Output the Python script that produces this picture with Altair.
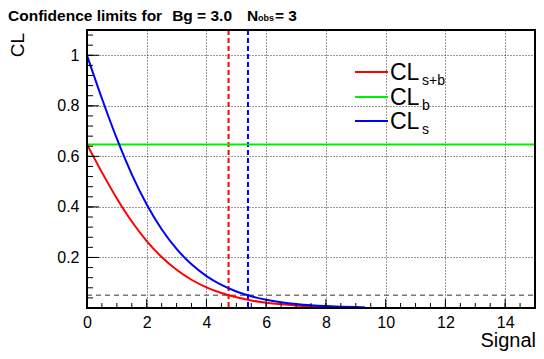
import altair as alt
import pandas as pd
import numpy as np

# ---- data ----
s_red = [0, 0.5, 1, 1.5, 2, 2.5, 3, 3.5, 4, 4.5, 5, 5.5, 6, 6.5, 7, 7.5, 8, 8.5, 8.7]
cl_sb = [0.6472, 0.5366, 0.4335, 0.3423, 0.2650, 0.2017, 0.1512, 0.1118, 0.0818,
         0.0592, 0.0424, 0.0301, 0.0212, 0.0149, 0.0103, 0.0071, 0.0049, 0.0034, 0.0029]
s_blue = [0, 0.5, 1, 1.5, 2, 2.5, 3, 3.5, 4, 4.5, 5, 5.5, 6, 6.5, 7, 7.5, 8, 8.5, 9, 9.3]
cl_s = [1.0, 0.8291, 0.6698, 0.5289, 0.4095, 0.3117, 0.2336, 0.1727, 0.1263, 0.0914,
        0.0655, 0.0465, 0.0328, 0.0230, 0.0160, 0.0110, 0.0076, 0.0052, 0.0035, 0.0028]
s_green = [0, 15]
cl_b = [0.6472, 0.6472]
limit_s = [4.74, 5.39]
limit_colors = ["#ff0000", "#0000ff"]
cl_level = [0.05]
x_labels = [0, 2, 4, 6, 8, 10, 12, 14]
y_labels = [0.2, 0.4, 0.6, 0.8, 1.0]

W, H = 448, 278
FONT = "Liberation Sans"
xs = alt.Scale(domain=[0, 15], nice=False, zero=False)
ys = alt.Scale(domain=[0, 1.1], nice=False, zero=False)
AX = alt.Axis(values=x_labels, title=None, grid=True, domain=False, ticks=False,
              labelFont=FONT, labelFontSize=16, labelPadding=6, labelColor="black",
              gridColor="black", gridDash=[1, 2], gridOpacity=0.8, labelFlush=False)
AY = alt.Axis(values=y_labels, title=None, grid=True, domain=False, ticks=False, format="~g",
              labelFont=FONT, labelFontSize=16, labelPadding=8, labelColor="black",
              gridColor="black", gridDash=[1, 2], gridOpacity=0.8)

def X(f="s"):
    return alt.X(f + ":Q", scale=xs, axis=AX)

def Y(f="cl"):
    return alt.Y(f + ":Q", scale=ys, axis=AY)

def line(sv, yv, color):
    df = pd.DataFrame({"s": sv, "cl": yv})
    return alt.Chart(df).mark_line(color=color, strokeWidth=2, interpolate="monotone", clip=True).encode(
        x=X(), y=Y())

# inside ticks
xmaj = pd.DataFrame({"s": np.arange(0, 15.01, 2)})
xmin = pd.DataFrame({"s": np.arange(0, 15.01, 0.5)})
ymaj = pd.DataFrame({"cl": np.round(np.arange(0, 1.101, 0.2), 3)})
ymin = pd.DataFrame({"cl": np.round(np.arange(0, 1.101, 0.04), 3)})
xt_major = alt.Chart(xmaj).mark_rule(color="black", strokeWidth=1).encode(
    x=X(), y=alt.value(H), y2=alt.value(H - 9))
xt_minor = alt.Chart(xmin).mark_rule(color="black", strokeWidth=1).encode(
    x=X(), y=alt.value(H), y2=alt.value(H - 5))
yt_major = alt.Chart(ymaj).mark_rule(color="black", strokeWidth=1).encode(
    y=Y(), x=alt.value(0), x2=alt.value(12))
yt_minor = alt.Chart(ymin).mark_rule(color="black", strokeWidth=1).encode(
    y=Y(), x=alt.value(0), x2=alt.value(6))

# reference dashed lines
lim_df = pd.DataFrame({"s": limit_s, "c": limit_colors})
limits = alt.Chart(lim_df).mark_rule(strokeWidth=2, strokeDash=[5, 3]).encode(
    x=X(), y=alt.value(0), y2=alt.value(H),
    color=alt.Color("c:N", scale=None, legend=None))
hl = alt.Chart(pd.DataFrame({"cl": cl_level})).mark_rule(
    color="#777777", strokeWidth=1.5, strokeDash=[5, 4]).encode(
    y=Y(), x=alt.value(0), x2=alt.value(W))

one = pd.DataFrame({"a": [0]})
frame = alt.Chart(one).mark_rect(fill=None, stroke="black", strokeWidth=2).encode(
    x=alt.value(0), x2=alt.value(W), y=alt.value(0), y2=alt.value(H))

def txt(t, x, y, size, weight="normal", align="left", angle=0, baseline="alphabetic"):
    kw = dict(text=t, font=FONT, fontSize=size, color="black", fontWeight=weight,
              align=align, baseline=baseline)
    if angle:
        kw["angle"] = angle
    return alt.Chart(one).mark_text(**kw).encode(x=alt.value(x), y=alt.value(y))

# legend
leg_colors = ["#ff0000", "#00ee00", "#0000ff"]
leg_y = [42, 67, 91]
leg_sub = ["s+b", "b", "s"]
legend_layers = []
for c, yy, sub in zip(leg_colors, leg_y, leg_sub):
    legend_layers.append(alt.Chart(one).mark_rule(color=c, strokeWidth=2).encode(
        x=alt.value(268), x2=alt.value(301), y=alt.value(yy), y2=alt.value(yy)))
    legend_layers.append(txt("CL", 303, yy + 8, 23))
    legend_layers.append(txt(sub, 335, yy + 13, 14))

texts = [
    txt("Confidence limits for", -79, -9, 15.5, weight="bold"),
    txt("Bg = 3.0", 145, -9, 15.5, weight="bold", align="right"),
    txt("N", 160, -9, 15.5, weight="bold"),
    txt("obs", 171, -9, 9, weight="bold"),
    txt("= 3", 188, -9, 15.5, weight="bold"),
    txt("Signal", W + 1, H + 39, 20, align="right"),
    txt("CL", -69, 3, 19, align="right", angle=270, baseline="middle"),
]

chart = alt.layer(
    hl, limits,
    line(s_green, cl_b, "#00ee00"),
    line(s_red, cl_sb, "#ff0000"),
    line(s_blue, cl_s, "#0000ff"),
    xt_major, xt_minor, yt_major, yt_minor, frame,
    *legend_layers, *texts,
).properties(
    width=W, height=H,
    padding={"left": 79, "top": 22, "right": 1, "bottom": 43},
    autosize=alt.AutoSizeParams(type="none"),
).configure_view(stroke=None).configure(background="white")

chart.save("out.html", embed_options={"renderer": "svg", "actions": False})
